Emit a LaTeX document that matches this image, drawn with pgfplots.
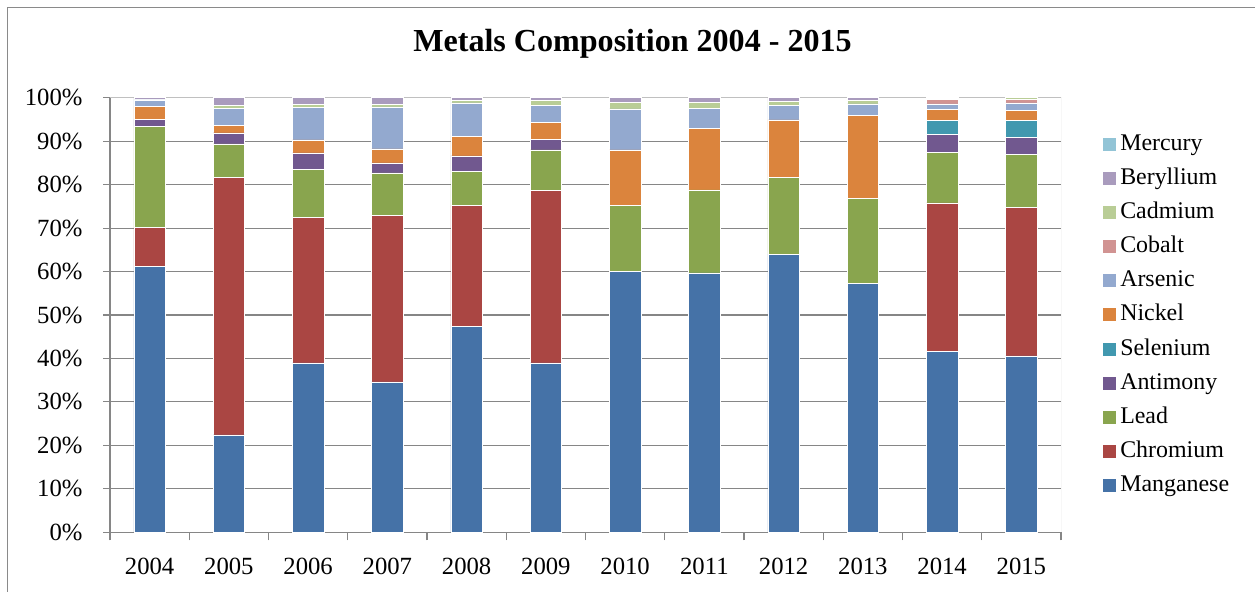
\documentclass[border=0pt]{standalone}
\usepackage{pgfplots}
\pgfplotsset{compat=1.18}
\usepackage{pgfplotstable}
\usepackage{fontspec}
\setmainfont{Liberation Serif}
\definecolor{cMn}{HTML}{4572A7}
\definecolor{cCr}{HTML}{AA4643}
\definecolor{cPb}{HTML}{89A54E}
\definecolor{cSb}{HTML}{71588F}
\definecolor{cSe}{HTML}{4198AF}
\definecolor{cNi}{HTML}{DB843D}
\definecolor{cAs}{HTML}{93A9CF}
\definecolor{cCo}{HTML}{D19392}
\definecolor{cCd}{HTML}{B9CD96}
\definecolor{cBe}{HTML}{A99BBD}
\definecolor{cHg}{HTML}{92C4D6}
\definecolor{gridgray}{HTML}{868686}
\definecolor{bordergray}{HTML}{C0C0C0}
\definecolor{framegray}{HTML}{8A8A8A}

\pgfplotstableread{
x  Mn   Cr   Pb   Sb  Se  Ni   As  Co  Cd  Be  Hg
0  61.2 8.9  23.3 1.6 0   3.0  1.5 0   0.1 0.4 0
1  22.4 59.3 7.7  2.5 0   1.7  4.0 0   0.6 1.8 0
2  39.0 33.4 11.1 3.8 0   3.0  7.4 0   0.8 1.5 0
3  34.6 38.3 9.8  2.3 0   3.2  9.7 0   0.6 1.5 0
4  47.3 27.9 7.8  3.6 0   4.5  7.7 0   0.6 0.6 0
5  39.0 39.6 9.4  2.4 0   4.0  3.8 0   1.2 0.6 0
6  60.0 0    15.2 0   0   12.8 9.4 0   1.5 1.1 0
7  59.7 0    19.1 0   0   14.2 4.6 0   1.3 1.1 0
8  64.0 0    17.6 0   0   13.3 3.4 0   0.9 0.8 0
9  57.2 0    19.7 0   0   19.0 2.7 0   0.8 0.6 0
10 41.6 34.2 11.7 4.1 3.2 2.5  1.3 1.0 0.3 0.1 0
11 40.6 34.2 12.2 3.9 3.9 2.3  1.7 0.8 0.4 0   0
}\data

\begin{document}
\begin{tikzpicture}[x=1bp,y=1bp]
\useasboundingbox (0,0) rectangle (1255,592);
\draw[framegray, line width=1.2bp] (7.5,-5) -- (7.5,584.5) -- (1262,584.5);
\node[anchor=base, font=\fontsize{32.2}{37}\selectfont\bfseries] at (632.5,540) {Metals Composition 2004 - 2015};
\begin{axis}[
  at={(110bp,59.7bp)}, anchor=south west,
  scale only axis, width=951bp, height=434.6bp,
  ybar stacked, bar width=31.4bp,
  xmin=-0.5, xmax=11.5, ymin=0, ymax=100,
  xtick={0,...,11},
  xticklabels={2004,2005,2006,2007,2008,2009,2010,2011,2012,2013,2014,2015},
  minor xtick={-0.5,0.5,...,11.5},
  ytick={0,10,...,100},
  yticklabels={0\%,10\%,20\%,30\%,40\%,50\%,60\%,70\%,80\%,90\%,100\%},
  ymajorgrids, major grid style={gridgray, line width=1.1bp},
  axis lines=left, axis line style={-, gridgray, line width=1.1bp},
  tick align=outside, major tick length=7bp, minor tick length=8bp,
  major x tick style={draw=none},
  tick style={gridgray, line width=1.1bp},
  tick label style={font=\fontsize{24.8}{30}\selectfont},
  yticklabel style={xshift=-17bp},
  xticklabel style={yshift=-15bp},
  legend style={at={(1.0442,0.5)}, anchor=west, draw=none, fill=none,
    font=\fontsize{24}{28}\selectfont, row sep=12.16bp, column sep=4bp, inner sep=0pt,
    nodes={inner sep=0pt, text height=17bp, text depth=5bp}},
  legend cell align=left,
  reverse legend,
  every axis plot post/.append style={draw=white, line width=0.5bp,
    legend image code/.code={\fill[##1,draw=none] (0bp,-6.5bp) rectangle (13bp,6.5bp);}},
]
\addplot[fill=cMn] table[x=x,y=Mn] {\data};
\addplot[fill=cCr] table[x=x,y=Cr] {\data};
\addplot[fill=cPb] table[x=x,y=Pb] {\data};
\addplot[fill=cSb] table[x=x,y=Sb] {\data};
\addplot[fill=cSe] table[x=x,y=Se] {\data};
\addplot[fill=cNi] table[x=x,y=Ni] {\data};
\addplot[fill=cAs] table[x=x,y=As] {\data};
\addplot[fill=cCo] table[x=x,y=Co] {\data};
\addplot[fill=cCd] table[x=x,y=Cd] {\data};
\addplot[fill=cBe] table[x=x,y=Be] {\data};
\addplot[fill=cHg] table[x=x,y=Hg] {\data};
\legend{Manganese,Chromium,Lead,Antimony,Selenium,Nickel,Arsenic,Cobalt,Cadmium,Beryllium,Mercury}
\draw[bordergray, line width=1bp] (rel axis cs:0,1) -- (rel axis cs:1,1) -- (rel axis cs:1,0);
\end{axis}
\end{tikzpicture}
\end{document}
